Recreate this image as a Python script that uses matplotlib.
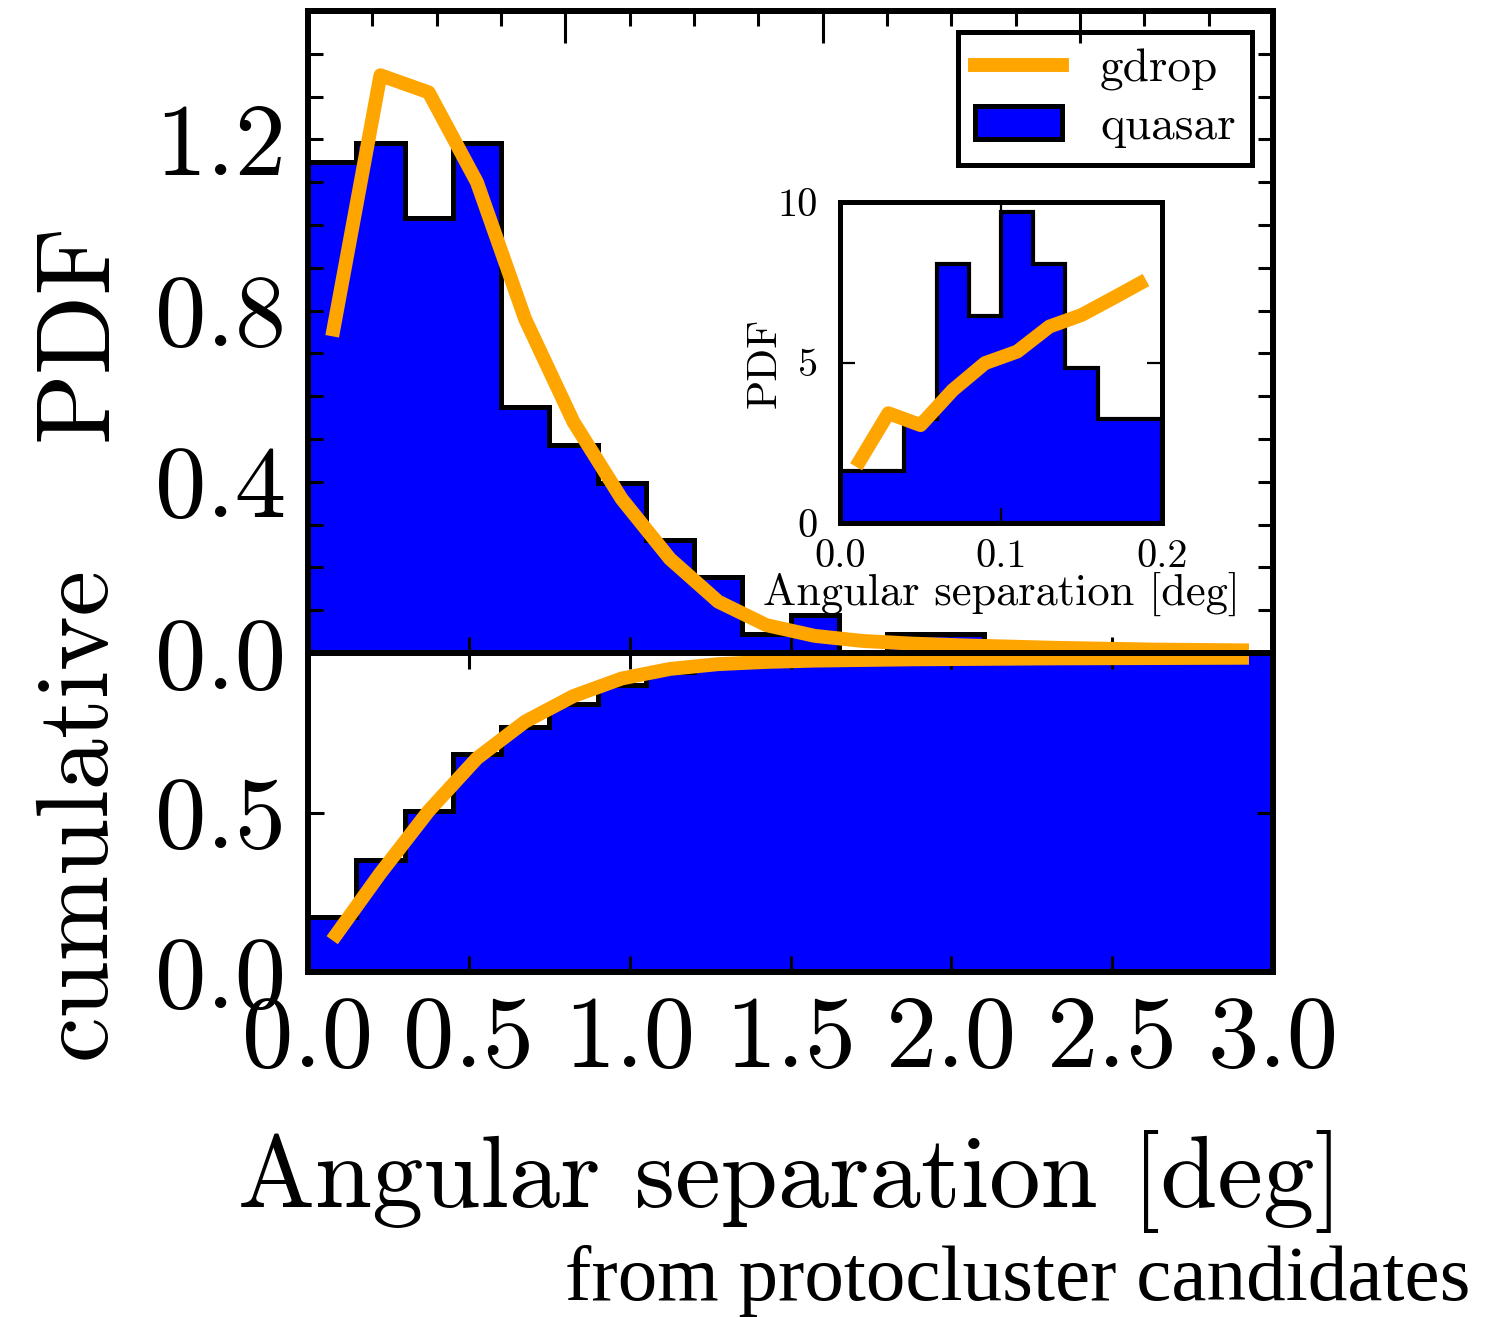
import numpy as np
import matplotlib.pyplot as plt
from matplotlib.ticker import MultipleLocator, FormatStrFormatter
from matplotlib.lines import Line2D
from matplotlib.patches import Patch

plt.rcParams['font.family'] = ['cmr10']
plt.rcParams['mathtext.fontset'] = 'cm'
plt.rcParams['axes.formatter.use_mathtext'] = True

# main histogram, 20 bins of 0.15 deg between 0 and 3 deg
bin_edges = np.linspace(0.0, 3.0, 21)
bin_centers = 0.5 * (bin_edges[:-1] + bin_edges[1:])
quasar_counts = [26, 27, 23, 27, 13, 11, 9, 6, 4, 1, 2, 0, 1, 1, 0, 0, 0, 0, 0, 0]
gdrop_pdf = [0.74, 1.35, 1.31, 1.10, 0.78, 0.54, 0.36, 0.22, 0.12, 0.065,
             0.04, 0.028, 0.022, 0.018, 0.015, 0.012, 0.010, 0.008, 0.007, 0.006]
gdrop_cum = [0.10, 0.31, 0.505, 0.67, 0.785, 0.865, 0.92, 0.95, 0.965, 0.972,
             0.976, 0.978, 0.980, 0.981, 0.982, 0.983, 0.9835, 0.984, 0.9845, 0.985]

# inset, 10 bins of 0.02 deg between 0 and 0.2 deg
inset_edges = np.linspace(0.0, 0.2, 11)
inset_centers = 0.5 * (inset_edges[:-1] + inset_edges[1:])
inset_counts = [1, 1, 2, 5, 4, 6, 5, 3, 2, 2]
inset_gdrop = [1.75, 3.42, 3.05, 4.14, 4.98, 5.34, 6.12, 6.48, 7.02, 7.57]

x_ticks = [0.0, 0.5, 1.0, 1.5, 2.0, 2.5, 3.0]
pdf_ticks = [0.0, 0.4, 0.8, 1.2]
cum_ticks = [0.0, 0.5]
inset_xticks = [0.0, 0.1, 0.2]
inset_yticks = [0, 5, 10]

QSO = 'blue'
GD = 'orange'
SPINE_LW = 4.3
TICK_FS = 74

fig = plt.figure(figsize=(15.02, 13.17), dpi=100)
ax_top = fig.add_axes([0.2051, 0.5042, 0.6425, 0.4874])
ax_bot = fig.add_axes([0.2051, 0.2619, 0.6425, 0.2423])

# --- top panel: PDF
ax_top.hist(bin_centers, bins=bin_edges, weights=quasar_counts, density=True,
            histtype='stepfilled', facecolor=QSO, edgecolor='black', lw=3.6)
ax_top.plot(bin_centers, gdrop_pdf, color=GD, lw=10, solid_capstyle='butt')
ax_top.set_xlim(0, 3)
ax_top.set_ylim(0, 1.5)
ax_top.set_xticks(x_ticks)
ax_top.set_yticks(pdf_ticks)
ax_top.yaxis.set_minor_locator(MultipleLocator(0.1))
ax_top.yaxis.set_major_formatter(FormatStrFormatter('%.1f'))
ax_top.tick_params(axis='x', which='both', direction='in', bottom=True, top=False,
                   labelbottom=False, length=11.5, width=2.2)
ax_top.tick_params(axis='y', which='both', direction='in', left=True, right=True,
                   length=11, width=2.2, labelsize=TICK_FS, pad=16)
ax_top.set_ylabel('PDF', fontsize=75)
ax_top.yaxis.set_label_coords(-0.2104, 0.5)
ax_top.yaxis.label.set_va('baseline')

handles = [Line2D([], [], color=GD, lw=10),
           Patch(facecolor=QSO, edgecolor='black', lw=3.6)]
leg = ax_top.legend(handles, ['gdrop', 'quasar'], loc='upper right',
                    bbox_to_anchor=(0.8336, 0.9757), bbox_transform=fig.transFigure,
                    fontsize=34, fancybox=False, borderaxespad=0, handlelength=1.85,
                    handletextpad=0.8, labelspacing=0.32, borderpad=0.35)
leg.get_frame().set_linewidth(3.6)
leg.get_frame().set_edgecolor('black')
leg.get_frame().set_alpha(1)

# extra ticks along the top edge
ax_tw = ax_top.twiny()
ax_tw.set_xlim(0, 3)
ax_tw.xaxis.set_major_locator(MultipleLocator(0.8))
ax_tw.xaxis.set_minor_locator(MultipleLocator(0.2))
ax_tw.tick_params(axis='x', which='major', direction='in', length=23, width=2.2,
                  labeltop=False)
ax_tw.tick_params(axis='x', which='minor', direction='in', length=11, width=2.2)

# --- bottom panel: cumulative
ax_bot.hist(bin_centers, bins=bin_edges, weights=quasar_counts, density=True,
            cumulative=True, histtype='stepfilled', facecolor=QSO,
            edgecolor='black', lw=3.6)
ax_bot.plot(bin_centers, gdrop_cum, color=GD, lw=10, solid_capstyle='butt')
ax_bot.set_xlim(0, 3)
ax_bot.set_ylim(0, 1)
ax_bot.set_xticks(x_ticks)
ax_bot.set_yticks(cum_ticks)
ax_bot.xaxis.set_major_formatter(FormatStrFormatter('%.1f'))
ax_bot.yaxis.set_major_formatter(FormatStrFormatter('%.1f'))
ax_bot.tick_params(axis='x', direction='in', top=True, bottom=True, length=11.5,
                   width=2.2, labelsize=TICK_FS, pad=17)
ax_bot.tick_params(axis='y', direction='in', left=True, right=True, length=11.5,
                   width=2.2, labelsize=TICK_FS, pad=16)
ax_bot.set_ylabel('cumulative', fontsize=74)
ax_bot.yaxis.set_label_coords(-0.2104, 0.5)
ax_bot.yaxis.label.set_va('baseline')
ax_bot.set_xlabel('Angular separation [deg]', fontsize=74)
ax_bot.xaxis.set_label_coords(0.5, -0.737)
ax_bot.xaxis.label.set_va('baseline')

for a in (ax_top, ax_bot, ax_tw):
    for s in a.spines.values():
        s.set_linewidth(SPINE_LW)

# --- inset
ax_in = fig.add_axes([0.5593, 0.6029, 0.2144, 0.2437])
ax_in.hist(inset_centers, bins=inset_edges, weights=inset_counts, density=True,
           histtype='stepfilled', facecolor=QSO, edgecolor='black', lw=3)
ax_in.plot(inset_centers, inset_gdrop, color=GD, lw=10, solid_capstyle='butt')
ax_in.set_xlim(0, 0.2)
ax_in.set_ylim(0, 10)
ax_in.set_xticks(inset_xticks)
ax_in.set_yticks(inset_yticks)
ax_in.xaxis.set_major_formatter(FormatStrFormatter('%.1f'))
ax_in.yaxis.set_major_formatter(FormatStrFormatter('%d'))
ax_in.tick_params(direction='in', top=True, right=True, length=11, width=1.6,
                  labelsize=29, pad=16)
ax_in.tick_params(axis='x', pad=12)
ax_in.set_xlabel('Angular separation [deg]', fontsize=32)
ax_in.xaxis.set_label_coords(0.5, -0.255)
ax_in.xaxis.label.set_va('baseline')
ax_in.set_ylabel('PDF', fontsize=31)
ax_in.yaxis.set_label_coords(-0.199, 0.5)
ax_in.yaxis.label.set_va('baseline')
for s in ax_in.spines.values():
    s.set_linewidth(3.6)

fig.text(0.9787, 0.0129, 'from protocluster candidates', family='Liberation Serif',
         fontsize=57, ha='right', va='baseline')

fig.savefig('out.png', dpi=100)
